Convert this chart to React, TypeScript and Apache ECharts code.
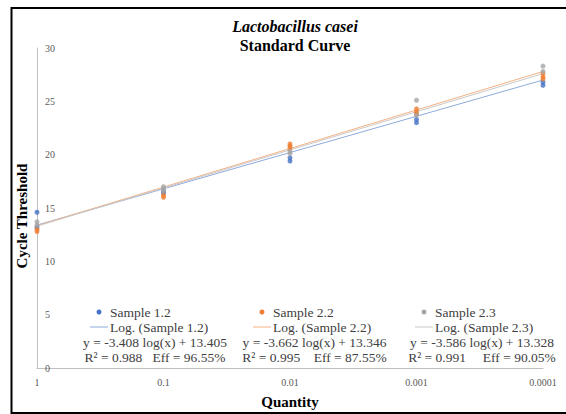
import React, { useEffect, useRef } from "react";
import * as echarts from "echarts";

const titleText = "Lactobacillus casei";
const subtitleText = "Standard Curve";
const xAxisName = "Quantity";
const yAxisName = "Cycle Threshold";

const xTickValues = [1, 0.1, 0.01, 0.001, 0.0001];
const xTickLabels = ["1", "0.1", "0.01", "0.001", "0.0001"];

const seriesNames = ["Sample 1.2", "Sample 2.2", "Sample 2.3"];
const trendNames = ["Log. (Sample 1.2)", "Log. (Sample 2.2)", "Log. (Sample 2.3)"];
const equations = [
  "y = -3.408 log(x) + 13.405",
  "y = -3.662 log(x) + 13.346",
  "y = -3.586 log(x) + 13.328",
];
const fitStats = [
  "R² = 0.988   Eff = 96.55%",
  "R² = 0.995    Eff = 87.55%",
  "R² = 0.991     Eff = 90.05%",
];

// [quantity, Ct]
const sample12: number[][] = [
  [1, 14.6], [1, 13.2],
  [0.1, 16.6], [0.1, 16.4],
  [0.01, 19.7], [0.01, 19.4],
  [0.001, 23.3], [0.001, 23.0],
  [0.0001, 26.8], [0.0001, 26.5],
];
const sample22: number[][] = [
  [1, 13.0], [1, 12.8],
  [0.1, 16.2], [0.1, 16.0],
  [0.01, 21.0], [0.01, 20.8], [0.01, 20.6],
  [0.001, 24.3], [0.001, 24.0], [0.001, 23.8],
  [0.0001, 27.6], [0.0001, 27.3], [0.0001, 27.1],
];
const sample23: number[][] = [
  [1, 13.7], [1, 13.4],
  [0.1, 17.0], [0.1, 16.8], [0.1, 16.6],
  [0.01, 20.3], [0.01, 20.1],
  [0.001, 25.1], [0.001, 23.7],
  [0.0001, 28.3], [0.0001, 27.8],
];

// trendline end values (at quantity 1 and 0.0001)
const trendEnds = [1, 0.0001];
const trend12 = [13.4, 27.0];
const trend22 = [13.35, 27.8];
const trend23 = [13.3, 27.6];

const markerColors = ["#4472C4", "#ED7D31", "#A5A5A5"];
const trendColors = ["#8FAADC", "#F4B183", "#C9C9C9"];

const serif = "'Liberation Serif', 'Times New Roman', serif";

export default function App() {
  const ref = useRef<HTMLDivElement>(null);

  useEffect(() => {
    if (!ref.current) return;
    const chart = echarts.init(ref.current, null, { renderer: "svg" });

    const samples = [sample12, sample22, sample23];
    const trends = [trend12, trend22, trend23];

    const legendCols = [
      { marker: 99, text: 110, lineFrom: 90, lineTo: 108, center: 155 },
      { marker: 262, text: 273, lineFrom: 253, lineTo: 271, center: 314.5 },
      { marker: 424, text: 435, lineFrom: 415, lineTo: 433, center: 482 },
    ];
    const rowY = [312, 327, 342, 357];
    const legendFont = { fontFamily: serif, fontSize: 13.5, fill: "#404040" };

    const graphics: any[] = [
      {
        type: "rect",
        shape: { x: 11.5, y: 8, width: 580, height: 405 },
        style: { fill: "none", stroke: "#000", lineWidth: 2 },
        silent: true,
      },
    ];
    legendCols.forEach((c, i) => {
      graphics.push(
        { type: "circle", shape: { cx: c.marker, cy: rowY[0], r: 2.5 }, style: { fill: markerColors[i] } },
        { type: "text", x: c.text, y: rowY[0], style: { ...legendFont, text: seriesNames[i], align: "left", verticalAlign: "middle" } },
        { type: "line", shape: { x1: c.lineFrom, y1: rowY[1], x2: c.lineTo, y2: rowY[1] }, style: { stroke: trendColors[i], lineWidth: 1 } },
        { type: "text", x: c.text, y: rowY[1], style: { ...legendFont, text: trendNames[i], align: "left", verticalAlign: "middle" } },
        { type: "text", x: c.center, y: rowY[2], style: { ...legendFont, text: equations[i], align: "center", verticalAlign: "middle" } },
        { type: "text", x: c.center, y: rowY[3], style: { ...legendFont, text: fitStats[i], align: "center", verticalAlign: "middle" } }
      );
    });

    const series: any[] = [];
    samples.forEach((d, i) => {
      series.push({
        name: seriesNames[i],
        type: "scatter",
        data: d,
        symbol: "circle",
        symbolSize: 5,
        itemStyle: { color: markerColors[i] },
        z: 3,
      });
    });
    trends.forEach((t, i) => {
      series.push({
        name: trendNames[i],
        type: "line",
        data: trendEnds.map((q, k) => [q, t[k]]),
        showSymbol: false,
        symbol: "none",
        lineStyle: { color: trendColors[i], width: 1 },
        z: 2,
      });
    });

    chart.setOption({
      animation: false,
      backgroundColor: "#fff",
      title: {
        text: titleText,
        subtext: subtitleText,
        left: 290,
        textAlign: "center",
        top: 13,
        itemGap: 3,
        textStyle: { fontFamily: serif, fontSize: 16, fontWeight: "bold", fontStyle: "italic", color: "#000" },
        subtextStyle: { fontFamily: serif, fontSize: 16, fontWeight: "bold", color: "#000" },
      },
      grid: { left: 37, right: 23, top: 48, bottom: 46 },
      xAxis: {
        type: "log",
        logBase: 10,
        min: 0.0001,
        max: 1,
        inverse: true,
        name: xAxisName,
        nameLocation: "middle",
        nameGap: 26,
        nameTextStyle: { fontFamily: serif, fontSize: 15, fontWeight: "bold", color: "#000" },
        axisLine: { show: true, lineStyle: { color: "#BFBFBF", width: 1 } },
        axisTick: { show: false },
        splitLine: { show: false },
        axisLabel: {
          margin: 9,
          fontFamily: serif,
          fontSize: 10,
          color: "#595959",
          formatter: (v: number) => {
            const idx = xTickValues.findIndex((t) => Math.abs(Math.log10(t) - Math.log10(v)) < 1e-6);
            return idx >= 0 ? xTickLabels[idx] : "";
          },
        },
      },
      yAxis: {
        type: "value",
        min: 0,
        max: 30,
        interval: 5,
        name: yAxisName,
        nameLocation: "middle",
        nameRotate: 90,
        nameGap: 8,
        nameTextStyle: {
          fontFamily: serif,
          fontSize: 15,
          fontWeight: "bold",
          color: "#000",
          padding: [0, 16, 0, 0],
        },
        axisLine: { show: true, lineStyle: { color: "#BFBFBF", width: 1 } },
        axisTick: { show: false },
        splitLine: { show: false },
        axisLabel: { inside: true, margin: 8, fontFamily: serif, fontSize: 10, color: "#595959" },
      },
      graphic: graphics,
      series,
    });

    return () => chart.dispose();
  }, []);

  return <div ref={ref} style={{ position: "absolute", left: 0, top: 0, width: 566, height: 414 }} />;
}
